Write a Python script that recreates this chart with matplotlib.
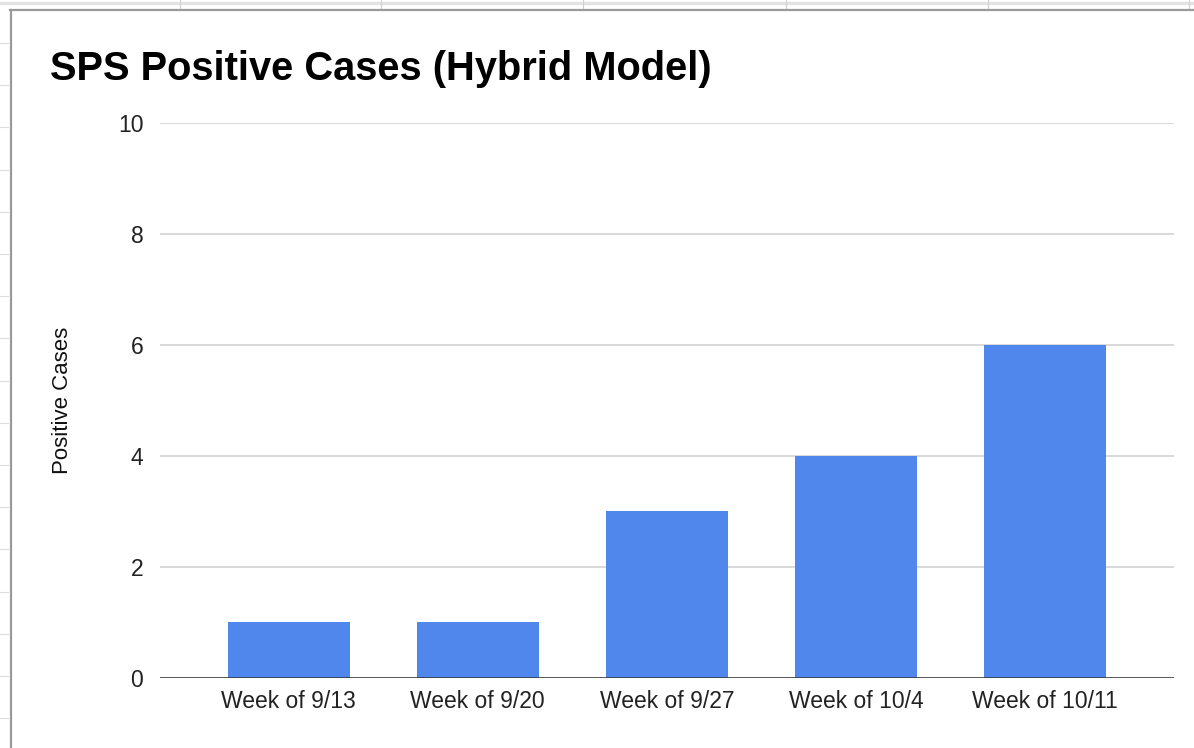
import numpy as np
import matplotlib.pyplot as plt
from matplotlib.lines import Line2D

plt.rcParams['font.family'] = ['Liberation Sans', 'DejaVu Sans']

# data
weeks = ['Week of 9/13', 'Week of 9/20', 'Week of 9/27', 'Week of 10/4', 'Week of 10/11']
cases = [1, 1, 3, 4, 6]
y_ticks = [0, 2, 4, 6, 8, 10]

fig = plt.figure(figsize=(11.94, 7.48), dpi=100)
ax = fig.add_axes([0.134, 0.0936, 0.849, 0.742])

x = np.arange(len(weeks))
ax.bar(x, cases, width=0.645, color='#5087EC', zorder=3)

ax.set_xlim(-0.68, len(weeks) - 1 + 0.68)
ax.set_ylim(0, 10)
ax.set_yticks(y_ticks)
ax.set_xticks(x)
ax.set_xticklabels(weeks)
ax.grid(axis='y', color='#d9d9d9', linewidth=1.4, zorder=0)
ax.axhline(0, color='#333333', linewidth=1.8, zorder=4)

for s in ax.spines.values():
    s.set_visible(False)
ax.tick_params(axis='both', length=0, labelsize=16.5, colors='#222222')
ax.tick_params(axis='y', pad=12)
ax.tick_params(axis='x', pad=9)
ax.set_ylabel('Positive Cases', fontsize=16, color='#111111', labelpad=32)

fig.text(0.042, 0.893, 'SPS Positive Cases (Hybrid Model)', fontsize=28.7,
         fontweight='bold', color='black')

# spreadsheet background and chart frame
fig.add_artist(Line2D([0, 1], [0.996, 0.996], color='#e3e3e3', linewidth=2.5))
for gx in [180, 381, 583, 786, 988, 1189]:
    fig.add_artist(Line2D([gx / 1194, gx / 1194], [0.988, 1.0], color='#d0d0d0', linewidth=0.8))
for gy in np.arange(43, 748, 42.2):
    fig.add_artist(Line2D([0, 8 / 1194], [1 - gy / 748, 1 - gy / 748], color='#dddddd', linewidth=0.8))
fig.add_artist(Line2D([10 / 1194, 1], [1 - 9.5 / 748, 1 - 9.5 / 748], color='#9a9a9a', linewidth=1.6))
fig.add_artist(Line2D([10.5 / 1194, 10.5 / 1194], [0, 1 - 9.5 / 748], color='#9a9a9a', linewidth=1.6))

plt.savefig('out.png', dpi=100)
